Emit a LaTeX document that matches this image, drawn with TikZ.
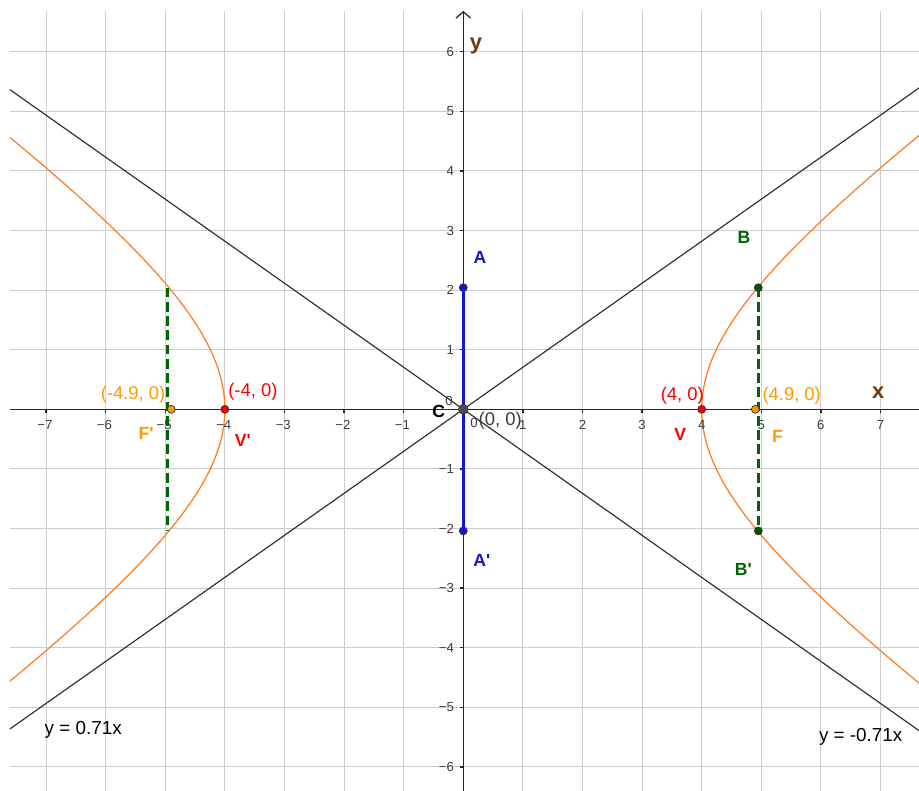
\documentclass[tikz,border=0pt]{standalone}
\usepackage{fontspec}
\setmainfont{Liberation Sans}
\usetikzlibrary{arrows.meta}
\definecolor{gridc}{RGB}{204,204,204}
\definecolor{hypc}{RGB}{255,127,39}
\definecolor{asyc}{RGB}{45,45,45}
\definecolor{bluec}{RGB}{20,20,210}
\definecolor{greenc}{RGB}{0,100,0}
\definecolor{redc}{RGB}{255,0,0}
\definecolor{orangec}{RGB}{255,153,0}
\definecolor{brownc}{RGB}{110,60,10}
\definecolor{tickc}{RGB}{60,60,60}
\tikzset{
  gridline/.style={draw=gridc, line width=0.5pt},
  axisline/.style={draw=black!85, line width=0.7pt},
  asyline/.style={draw=asyc, line width=0.55pt},
  hypline/.style={draw=hypc, line width=0.6pt},
  ticklabel/.style={text=tickc, font=\fontsize{6.3}{7}\selectfont, inner sep=0pt},
  lbl/.style={font=\fontsize{8.4}{10}\selectfont\bfseries, inner sep=0pt},
  coordlbl/.style={font=\fontsize{8.8}{10}\selectfont, inner sep=0pt},
  eqlbl/.style={font=\fontsize{9}{10}\selectfont, inner sep=0pt, text=black},
  axlbl/.style={font=\fontsize{10.5}{12}\selectfont\bfseries, text=brownc, inner sep=0pt},
  ptdot/.style={circle, draw=black!80, line width=0.35pt, inner sep=0pt, minimum size=3.8pt},
}
\begin{document}
\begin{tikzpicture}[x=1cm,y=1cm]
\useasboundingbox (-7.773,-6.404) rectangle (7.646,6.867);
\fill[white] (-7.773,-6.404) rectangle (7.646,6.867);
\begin{scope}
  \clip (-7.606,-6.404) rectangle (7.646,6.683);
  \foreach \i in {-7,...,7} \draw[gridline] (\i,-6.404) -- (\i,6.683);
  \foreach \j in {-6,...,6} \draw[gridline] (-7.606,\j) -- (7.646,\j);
  % asymptotes
  \coordinate (a1s) at (-7.8,{-7.8*0.705});
  \coordinate (a1e) at (7.8,{7.8*0.705});
  \coordinate (a2s) at (-7.8,{7.8*0.705});
  \coordinate (a2e) at (7.8,{-7.8*0.705});
  \draw[asyline] (a1s) -- (a1e);
  \draw[asyline] (a2s) -- (a2e);
  % hyperbola
  \draw[hypline] plot[domain=-1.4:1.4, samples=140, smooth] ({4*cosh(\x)},{2.82*sinh(\x)});
  \draw[hypline] plot[domain=-1.4:1.4, samples=140, smooth] ({-4*cosh(\x)},{2.82*sinh(\x)});
\end{scope}
% axes
\coordinate (xl) at (-7.606,0);
\coordinate (xr) at (7.646,0);
\coordinate (yb) at (0,-6.404);
\coordinate (yt) at (0,6.683);
\draw[axisline] (xl) -- (xr);
\draw[axisline, -{Straight Barb[length=3pt,width=7pt,line width=0.6pt]}] (yb) -- (yt);
% ticks
\foreach \i in {-7,...,-1,1,2,...,7} \draw[axisline] (\i,0) -- (\i,-0.06);
\foreach \j in {-6,...,-1,1,2,...,6} \draw[axisline] (0,\j) -- (-0.06,\j);
% tick labels
\foreach \i in {-7,...,-1} \node[ticklabel] (xt\i) at (\i-0.02,-0.26) {−\the\numexpr-\i\relax};
\foreach \i in {1,...,7} \node[ticklabel] (xt\i) at (\i,-0.26) {\i};
\foreach \j in {-6,...,-1} \node[ticklabel, anchor=east] (yt\j) at (-0.15,\j) {−\the\numexpr-\j\relax};
\foreach \j in {1,...,6} \node[ticklabel, anchor=east] (yt\j) at (-0.15,\j) {\j};
\node[ticklabel] (zx) at (-0.24,0.14) {0};
\node[ticklabel] (zy) at (0.18,-0.23) {0};
% points
\coordinate (A) at (0,2.04);
\coordinate (Ap) at (0,-2.04);
\coordinate (B) at (4.95,2.04);
\coordinate (Bp) at (4.95,-2.04);
\coordinate (BL) at (-4.955,2.04);
\coordinate (BLp) at (-4.955,-2.04);
% segments
\draw[bluec, line width=1.4pt] (A) -- (Ap);
\draw[greenc, line width=1.4pt, dash pattern=on 4.6pt off 2.2pt] (B) -- (Bp);
\draw[greenc, line width=1.4pt, dash pattern=on 4.6pt off 2.2pt] (BL) -- (BLp);
% dots
\node[ptdot, fill=bluec] (pA) at (A) {};
\node[ptdot, fill=bluec] (pAp) at (Ap) {};
\node[ptdot, fill=greenc!85!black] (pB) at (B) {};
\node[ptdot, fill=greenc!85!black] (pBp) at (Bp) {};
\node[ptdot, fill=redc] (V) at (4,0) {};
\node[ptdot, fill=redc] (Vp) at (-4,0) {};
\node[ptdot, fill=orangec] (F) at (4.9,0) {};
\node[ptdot, fill=orangec] (Fp) at (-4.9,0) {};
\node[ptdot, fill=black!70, minimum size=4.6pt] (C) at (0,0) {};
% labels
\node[lbl, text=bluec] (lA) at (0.28,2.55) {A};
\node[lbl, text=bluec] (lAp) at (0.31,-2.53) {A\textquotesingle};
\node[lbl, text=black] (lC) at (-0.41,-0.03) {C};
\node[coordlbl, text=tickc] (lC0) at (0.62,-0.2) {(0, 0)};
\node[lbl, text=greenc] (lB) at (4.71,2.89) {B};
\node[lbl, text=greenc] (lBp) at (4.70,-2.69) {B\textquotesingle};
\node[coordlbl, text=redc] (lV0) at (3.675,0.23) {(4, 0)};
\node[lbl, text=redc] (lV) at (3.64,-0.43) {V};
\node[coordlbl, text=orangec] (lF0) at (5.51,0.23) {(4.9, 0)};
\node[lbl, text=orangec] (lF) at (5.27,-0.46) {F};
\node[coordlbl, text=orangec] (lFp0) at (-5.54,0.24) {(-4.9, 0)};
\node[lbl, text=orangec] (lFp) at (-5.32,-0.40) {F\textquotesingle};
\node[coordlbl, text=redc] (lVp0) at (-3.53,0.29) {(-4, 0)};
\node[lbl, text=redc] (lVp) at (-3.70,-0.53) {V\textquotesingle};
\node[axlbl, anchor=base] (lx) at (6.96,0.185) {x};
\node[axlbl, anchor=base] (ly) at (0.215,6.03) {y};
\node[eqlbl] (e1) at (-6.376,-5.38) {y = 0.71x};
\node[eqlbl] (e2) at (6.668,-5.50) {y = -0.71x};
\end{tikzpicture}
\end{document}
